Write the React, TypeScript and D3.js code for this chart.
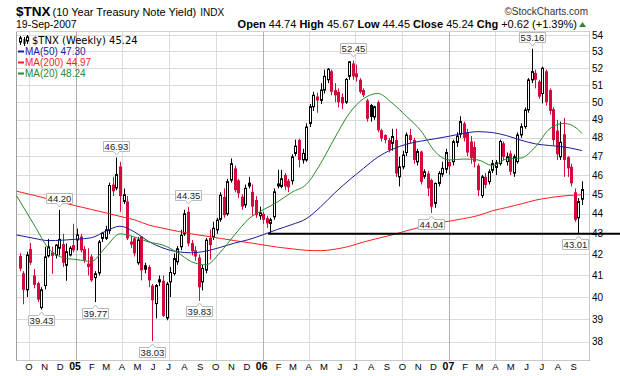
import React from 'react';
import * as d3 from 'd3';

// ---------- data ----------
const firstWeek = new Date(2004, 8, 13); // first weekly bar, week of 13-Sep-2004

const opens = [
  41.92, 41.1, 40.33, 42.26, 41.0, 40.64, 39.52, 40.53, 41.93, 42.1,
  41.97, 42.3, 42.5, 41.48, 41.97, 42.45, 42.7, 42.87, 42.26, 41.56,
  41.9, 40.9, 41.12, 42.78, 42.78, 43.16, 45.5, 45.32, 46.45, 44.63,
  44.63, 42.5, 42.78, 41.6, 42.87, 41.48, 41.4, 40.53, 39.7, 40.7,
  40.75, 39.05, 40.7, 41.09, 41.65, 42.37, 43.0, 44.1, 42.55, 42.2,
  41.85, 40.7, 41.25, 42.8, 42.85, 43.2, 43.72, 44.86, 44.0, 45.73,
  46.35, 45.72, 44.87, 44.45, 45.6, 45.12, 44.7, 43.9, 44.0, 43.78,
  43.52, 43.85, 45.56, 45.4, 46.0, 45.7, 45.7, 47.15, 47.88, 46.8,
  46.8, 48.8, 49.74, 50.33, 50.1, 50.7, 51.3, 51.8, 50.7, 50.6,
  50.3, 50.0, 51.5, 52.27, 51.68, 51.3, 50.7, 50.1, 49.84, 49.16,
  50.0, 48.42, 48.15, 47.88, 47.7, 47.88, 45.9, 46.43, 47.2, 48.15,
  47.88, 46.7, 47.25, 45.93, 46.08, 45.73, 44.53, 45.56, 46.05, 46.3,
  46.7, 46.7, 47.75, 48.2, 48.8, 48.3, 47.8, 47.5, 46.5, 44.93,
  45.9, 45.65, 46.25, 46.4, 46.6, 47.7, 46.71, 47.15, 46.1, 46.71,
  48.16, 48.62, 49.56, 51.29, 51.7, 51.2, 50.5, 51.8, 50.7, 49.6,
  48.4, 46.97, 48.2, 46.95, 46.43, 45.1, 43.8, 44.74,
];
const highs = [
  42.05, 41.2, 42.13, 42.55, 41.3, 40.7, 40.45, 42.37, 42.75, 42.37,
  42.5, 44.2, 43.0, 42.53, 42.4, 43.5, 43.26, 43.0, 42.4, 42.3,
  42.0, 41.2, 42.7, 43.1, 43.4, 45.6, 45.9, 46.93, 46.7, 45.3,
  44.9, 42.9, 42.85, 42.85, 42.9, 41.6, 41.5, 40.6, 40.6, 41.0,
  41.0, 40.7, 41.4, 42.05, 42.4, 43.2, 44.2, 44.35, 42.7, 42.4,
  42.0, 41.5, 42.8, 43.2, 43.6, 43.8, 45.1, 45.3, 45.8, 46.88,
  46.5, 45.8, 45.0, 45.5, 45.9, 45.5, 44.9, 44.36, 44.1, 43.9,
  43.8, 45.3, 46.27, 46.27, 46.1, 45.8, 47.1, 47.9, 47.95, 47.4,
  48.8, 49.9, 50.6, 50.55, 51.1, 51.9, 52.0, 51.9, 51.1, 50.8,
  50.5, 51.4, 52.4, 52.45, 52.2, 51.4, 50.8, 50.2, 49.9, 49.8,
  50.1, 48.5, 48.2, 48.0, 48.5, 48.5, 46.97, 47.3, 48.3, 48.5,
  48.0, 47.4, 47.3, 46.3, 46.2, 45.8, 45.6, 46.2, 46.7, 47.4,
  46.8, 47.9, 48.3, 49.2, 48.9, 48.5, 48.1, 47.8, 46.6, 46.0,
  46.1, 46.3, 46.8, 46.8, 47.9, 47.8, 47.2, 47.3, 47.1, 48.3,
  48.8, 49.7, 51.4, 53.16, 51.9, 51.3, 52.08, 51.9, 50.8, 49.7,
  49.0, 48.9, 49.1, 47.0, 46.6, 45.3, 44.8, 45.67,
];
const lows = [
  41.2, 39.67, 40.0, 41.5, 40.4, 39.78, 39.43, 40.35, 41.85, 41.08,
  41.8, 41.95, 41.4, 40.75, 41.9, 42.1, 42.2, 42.1, 41.6, 41.0,
  40.7, 39.77, 41.0, 42.6, 42.7, 43.0, 44.9, 45.2, 44.1, 44.5,
  42.7, 42.3, 41.9, 41.5, 40.77, 41.1, 40.45, 38.03, 39.03, 40.5,
  39.1, 38.95, 40.0, 41.0, 41.5, 42.2, 42.9, 42.4, 41.95, 41.7,
  39.83, 40.3, 41.1, 41.75, 42.7, 43.0, 43.6, 43.8, 43.9, 45.6,
  45.1, 44.8, 44.2, 44.3, 45.3, 43.9, 43.8, 43.7, 43.5, 43.3,
  43.0, 43.7, 45.3, 45.3, 45.2, 45.1, 45.5, 47.0, 46.4, 46.6,
  46.7, 48.6, 49.5, 49.4, 49.9, 50.5, 51.1, 50.4, 50.0, 49.7,
  49.6, 49.9, 51.3, 51.3, 51.2, 50.5, 50.3, 48.9, 48.9, 49.0,
  48.3, 47.8, 47.7, 47.2, 47.3, 45.9, 45.4, 46.3, 47.0, 47.7,
  46.6, 46.5, 45.5, 45.8, 44.9, 44.04, 44.3, 45.4, 45.9, 46.1,
  46.0, 46.5, 47.5, 48.0, 47.8, 47.0, 46.6, 46.4, 44.9, 44.8,
  45.3, 45.5, 46.1, 46.0, 46.5, 46.8, 46.5, 46.0, 45.9, 46.6,
  48.0, 48.5, 49.4, 51.1, 50.8, 50.2, 49.93, 49.8, 49.3, 47.6,
  46.8, 46.8, 45.9, 45.9, 45.4, 43.6, 43.01, 44.45,
];
const closes = [
  41.32, 40.33, 41.97, 41.6, 40.56, 39.88, 40.33, 41.88, 42.37, 41.93,
  42.45, 42.73, 41.6, 42.13, 42.3, 42.2, 42.95, 42.2, 41.72, 41.4,
  40.77, 41.08, 42.6, 43.03, 43.2, 45.45, 45.15, 46.02, 44.9, 44.97,
  42.78, 42.6, 42.05, 42.7, 41.24, 41.27, 40.77, 39.85, 40.53, 40.8,
  39.15, 40.6, 41.14, 41.8, 42.27, 42.93, 44.0, 42.53, 42.15, 41.9,
  40.45, 41.33, 42.69, 42.45, 43.27, 43.68, 44.95, 43.93, 45.65, 46.6,
  45.21, 45.04, 44.36, 45.3, 45.4, 44.36, 43.93, 44.05, 43.7, 43.52,
  43.7, 45.12, 45.4, 45.8, 45.4, 45.35, 46.97, 47.55, 46.8, 47.15,
  48.6, 49.74, 50.4, 50.1, 50.7, 51.5, 51.92, 50.6, 50.4, 50.0,
  49.93, 51.32, 52.37, 51.5, 51.45, 50.6, 50.4, 49.06, 49.16, 49.74,
  48.42, 47.97, 47.88, 47.33, 48.07, 46.08, 46.43, 47.06, 48.16, 47.88,
  46.8, 47.25, 45.64, 46.17, 45.3, 44.36, 45.56, 46.08, 46.35, 47.2,
  46.45, 47.79, 48.1, 48.9, 48.0, 47.2, 46.9, 46.7, 45.2, 45.9,
  45.48, 46.17, 46.6, 46.65, 47.8, 46.97, 46.97, 46.17, 46.97, 48.16,
  48.62, 49.56, 51.29, 51.78, 51.3, 50.32, 51.98, 50.0, 49.5, 47.88,
  47.1, 47.75, 46.8, 46.35, 45.56, 43.7, 44.62, 45.24,
];

// moving averages, read at these week positions
const maWeeks = [-1, 4, 8, 12, 16, 20, 24, 28, 32, 36, 40, 44, 48, 52, 56, 60, 64, 68, 72, 76,
  80, 84, 88, 92, 96, 100, 104, 108, 112, 116, 120, 124, 128, 132, 136, 140, 144, 148, 152, 156, 157];
const ma50 = [42.95, 42.78, 42.67, 42.69, 42.74, 42.81, 43.13, 43.38, 43.1, 42.63, 42.31, 42.13, 42.08,
  42.16, 42.34, 42.55, 42.72, 42.96, 43.22, 43.46, 43.75, 44.35, 45.07, 45.73, 46.35, 46.95, 47.37,
  47.65, 47.82, 47.95, 48.09, 48.25, 48.34, 48.29, 48.12, 47.87, 47.67, 47.58, 47.5, 47.35, 47.3];
const ma200 = [45.16, 44.94, 44.75, 44.57, 44.39, 44.22, 44.05, 43.87, 43.7, 43.44, 43.28, 43.13, 43.0,
  42.89, 42.78, 42.67, 42.57, 42.46, 42.35, 42.27, 42.2, 42.18, 42.25, 42.39, 42.6, 42.78, 42.95,
  43.15, 43.34, 43.52, 43.63, 43.76, 43.91, 44.15, 44.32, 44.5, 44.69, 44.82, 44.91, 44.96, 44.97];
const ma20 = [44.96, 43.45, 42.3, 41.85, 41.75, 41.67, 42.35, 43.0, 42.85, 42.6, 42.45, 42.1, 41.65,
  41.5, 42.1, 42.95, 43.75, 44.2, 44.6, 45.1, 45.5, 46.6, 48.0, 49.35, 50.2, 50.5, 49.95, 49.2,
  48.4, 47.25, 46.8, 46.85, 46.8, 46.5, 46.85, 46.9, 47.5, 48.5, 48.8, 48.45, 48.24];

const yTicks = [38, 39, 40, 41, 42, 43, 44, 45, 46, 47, 48, 49, 50, 51, 52, 53, 54];
const monthLabels = ['O', 'N', 'D', '05', 'F', 'M', 'A', 'M', 'J', 'J', 'A', 'S',
  'O', 'N', 'D', '06', 'F', 'M', 'A', 'M', 'J', 'J', 'A', 'S',
  'O', 'N', 'D', '07', 'F', 'M', 'A', 'M', 'J', 'J', 'A', 'S'];
const highCallouts = [11, 27, 47, 93, 143];
const lowCallouts = [6, 21, 37, 50, 115, 156];
const supportLevel = 43;
const supportFromWeek = 70;

// ---------- styles ----------
const RED = '#d40a3c';
const C50 = '#1c1c96';
const C200 = '#ff1e1e';
const C20 = '#2b8a2b';
const SANS = "'Liberation Sans', Arial, sans-serif";
const VERD = "'DejaVu Sans', Verdana, sans-serif";

export default function App() {
  const W = 620, H = 376;
  const L = 16.5, R = 589.5, T = 31.5, B = 360.5;

  const x = d3.scaleTime().domain([new Date(2005, 0, 1), new Date(2007, 0, 1)]).range([76, 449.4]);
  const y = d3.scaleLog().domain([38, 54]).range([341.8, 35]);
  const weekDate = (i: number) => d3.timeDay.offset(firstWeek, 7 * i);
  const cx = (i: number) => Math.round(x(weekDate(i))) + 0.5;

  const months = monthLabels.map((lab, k) => ({ lab, d: new Date(2004, 9 + k, 1) }));
  const quarters = months.filter((m) => m.d.getMonth() % 3 === 0);

  const maPath = (vals: number[]) =>
    d3.line<number>()
      .x((_, k) => x(weekDate(maWeeks[k])))
      .y((v) => y(v))
      .curve(d3.curveMonotoneX)(vals) || '';

  const lastClose = closes[closes.length - 1];

  const callout = (i: number, above: boolean, key: string) => {
    const v = above ? highs[i] : lows[i];
    const px = cx(i);
    const lw = 26, lh = 10;
    let left = px - 13;
    left = Math.max(L + 1, Math.min(R - 1 - lw, left));
    const right = left + lw;
    const yv = y(v);
    let d: string, ty: number;
    if (above) {
      const yb = Math.round(yv - 7) + 0.5;
      const yt = yb - lh;
      d = `M${left},${yt}H${right}V${yb}H${px + 3}L${px},${yb + 3.5}L${px - 3},${yb}H${left}Z`;
      ty = yt + lh / 2 + 3.3;
    } else {
      const yt = Math.round(yv + 5.5) + 0.5;
      d = `M${left},${yt}H${px - 3}L${px},${yt - 3.5}L${px + 3},${yt}H${right}V${yt + lh}H${left}Z`;
      ty = yt + lh / 2 + 3.3;
    }
    return (
      <g key={key}>
        <path d={d} fill="#fff" stroke="#b8b8b8" strokeWidth={1} />
        <text x={(left + right) / 2} y={ty} textAnchor="middle" fontFamily={SANS} fontSize={9.5} fill="#222">
          {v.toFixed(2)}
        </text>
      </g>
    );
  };

  return (
    <div style={{ position: 'absolute', left: 0, top: 0 }}>
      <svg width={W} height={H} viewBox={`0 0 ${W} ${H}`} style={{ display: 'block', background: '#fff' }}>
        <defs>
          <clipPath id="plot">
            <rect x={L} y={T} width={R - L} height={B - T} />
          </clipPath>
        </defs>

        {/* header */}
        <text x={16} y={16} fontFamily={SANS} fill="#000">
          <tspan fontWeight="bold" fontSize={13.5}>$TNX</tspan>
          <tspan fontSize={11} dx={2}>(10 Year Treasury Note Yield)</tspan>
          <tspan fontSize={10} dx={4}>INDX</tspan>
        </text>
        <text x={588} y={15} textAnchor="end" fontFamily={SANS} fontSize={10} fill="#333">©StockCharts.com</text>
        <text x={16} y={28} fontFamily={SANS} fontSize={10.5} fill="#000">19-Sep-2007</text>
        <text x={577} y={28} textAnchor="end" fontFamily={SANS} fontSize={11} fill="#000">
          <tspan fontWeight="bold">Open</tspan>
          <tspan>{' 44.74 '}</tspan>
          <tspan fontWeight="bold">{' High'}</tspan>
          <tspan>{' 45.67 '}</tspan>
          <tspan fontWeight="bold">{' Low'}</tspan>
          <tspan>{' 44.45 '}</tspan>
          <tspan fontWeight="bold">{' Close'}</tspan>
          <tspan>{' 45.24 '}</tspan>
          <tspan fontWeight="bold">{' Chg'}</tspan>
          <tspan>{' +0.62 (+1.39%)'}</tspan>
        </text>
        <path d="M579,27 L582.5,22 L586,27 Z" fill="#2b8a2b" />

        {/* grid */}
        {yTicks.map((t) => (
          <line key={'hg' + t} x1={L} x2={R} y1={Math.round(y(t)) + 0.5} y2={Math.round(y(t)) + 0.5} stroke="#dadada" />
        ))}
        {quarters.map((m, k) => {
          const xx = Math.round(x(m.d)) + 0.5;
          if (xx <= L || xx >= R) return null;
          const isYear = m.d.getMonth() === 0;
          return <line key={'vg' + k} x1={xx} x2={xx} y1={T} y2={B} stroke={isYear ? '#b0b0b0' : '#dadada'} />;
        })}

        {/* frame */}
        <line x1={L} x2={L} y1={T} y2={B} stroke="#a0a0a0" />
        <line x1={L} x2={R} y1={T} y2={T} stroke="#d0d0d0" />
        <line x1={L} x2={R} y1={B} y2={B} stroke="#909090" strokeDasharray="1,1" />
        <line x1={R} x2={R} y1={T} y2={B} stroke="#909090" strokeDasharray="1,1" />

        {/* candles */}
        <g clipPath="url(#plot)">
          {closes.map((c, i) => {
            const o = opens[i];
            const prev = i > 0 ? closes[i - 1] : o;
            const col = c >= prev ? '#000' : RED;
            const xx = cx(i);
            const yo = y(o), yc = y(c);
            const top = Math.min(yo, yc);
            const h = Math.max(1, Math.abs(yo - yc));
            const filled = c < o;
            return (
              <g key={'c' + i}>
                <line x1={xx} x2={xx} y1={y(highs[i])} y2={y(lows[i])} stroke={col} strokeWidth={1} />
                {filled ? (
                  <rect x={xx - 1.5} y={top} width={3} height={h} fill={col} />
                ) : (
                  <rect x={xx - 1} y={top} width={2} height={h} fill="#fff" stroke={col} strokeWidth={1} />
                )}
              </g>
            );
          })}
          <path d={maPath(ma200)} fill="none" stroke={C200} strokeWidth={1} />
          <path d={maPath(ma50)} fill="none" stroke={C50} strokeWidth={1} />
          <path d={maPath(ma20)} fill="none" stroke={C20} strokeWidth={1} />
        </g>

        {/* support line */}
        <line x1={cx(supportFromWeek) - 2.5} x2={W} y1={y(supportLevel)} y2={y(supportLevel)} stroke="#000" strokeWidth={2} />

        {/* right axis */}
        {yTicks.map((t) => (
          <text key={'yt' + t} x={592} y={y(t) + 3.6} fontFamily={SANS} fontSize={10} fill="#000">{t}</text>
        ))}

        {/* bottom axis */}
        {months.map((m, k) => {
          const isYear = m.d.getMonth() === 0;
          const xx = x(m.d) - (isYear ? 1 : 0);
          return (
            <text key={'m' + k} x={xx} y={370} textAnchor="middle" fontFamily={SANS}
              fontSize={isYear ? 10.5 : 9.5} fontWeight={isYear ? 'bold' : 'normal'} fill="#000">
              {m.lab}
            </text>
          );
        })}

        {/* legend */}
        <g>
          <line x1={20.5} x2={20.5} y1={36} y2={45} stroke="#000" />
          <rect x={19.5} y={38} width={2} height={4} fill="#fff" stroke="#000" />
          <line x1={24.5} x2={24.5} y1={37} y2={46} stroke="#000" />
          <rect x={23.5} y={39} width={2} height={5} fill="#000" />
          <line x1={27.5} x2={27.5} y1={35} y2={44} stroke="#000" />
          <rect x={26.5} y={37} width={2} height={4} fill="#fff" stroke="#000" />
          <text x={32} y={44} fontFamily={VERD} fontSize={10} fill="#000">$TNX (Weekly) {lastClose.toFixed(2)}</text>

          <line x1={18} x2={24} y1={51.5} y2={51.5} stroke={C50} strokeWidth={2} />
          <text x={25} y={55} fontFamily={SANS} fontSize={10} fill={C50}>MA(50) {ma50[ma50.length - 1].toFixed(2)}</text>
          <line x1={18} x2={24} y1={62.5} y2={62.5} stroke={C200} strokeWidth={2} />
          <text x={25} y={66} fontFamily={SANS} fontSize={10} fill={C200}>MA(200) {ma200[ma200.length - 1].toFixed(2)}</text>
          <line x1={18} x2={24} y1={73.5} y2={73.5} stroke={C20} strokeWidth={2} />
          <text x={25} y={77} fontFamily={SANS} fontSize={10} fill={C20}>MA(20) {ma20[ma20.length - 1].toFixed(2)}</text>
        </g>

        {/* callouts */}
        {highCallouts.map((i) => callout(i, true, 'h' + i))}
        {lowCallouts.map((i) => callout(i, false, 'l' + i))}
      </svg>
    </div>
  );
}
